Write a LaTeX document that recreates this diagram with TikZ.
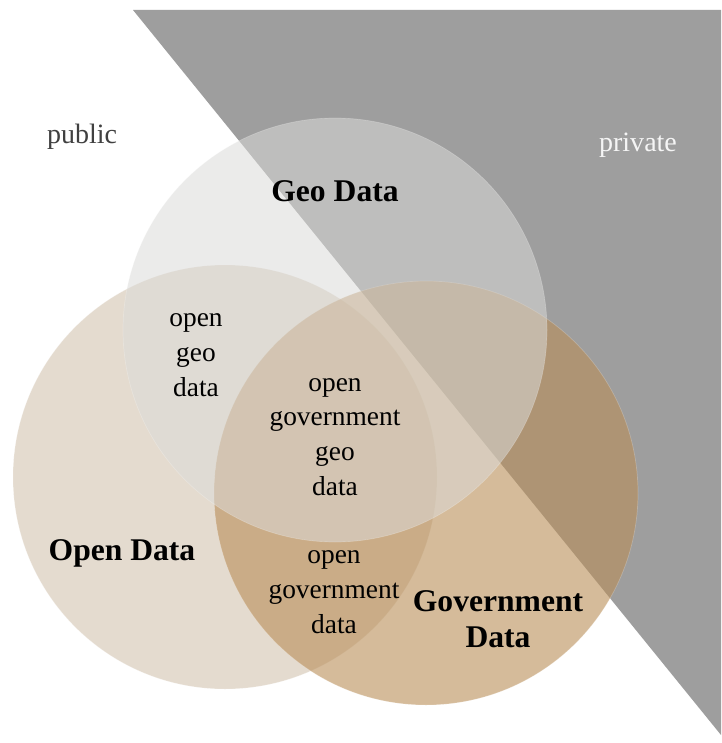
\documentclass[tikz,border=0pt]{standalone}
\usepackage{fontspec}
\setmainfont{Liberation Serif}
\definecolor{privgray}{RGB}{158,158,158}
\definecolor{geofill}{RGB}{219,219,217}
\definecolor{openfill}{RGB}{203,185,161}
\definecolor{govfill}{RGB}{185,142,88}
\definecolor{pubtext}{RGB}{64,64,64}
\definecolor{privtext}{RGB}{245,245,245}
\tikzset{
  venn/.style={circle, minimum size=424pt, inner sep=0pt, draw=white, draw opacity=0.22, line width=0.7pt},
  smalltxt/.style={align=center, font=\fontsize{27.4}{34.7}\selectfont, text=black, inner sep=0pt},
  bigtxt/.style={align=center, font=\fontsize{31.6}{36}\selectfont\bfseries, text=black, inner sep=0pt},
  sidetxt/.style={font=\fontsize{28}{32}\selectfont, inner sep=0pt, anchor=base}
}
\begin{document}
\begin{tikzpicture}[x=1pt,y=-1pt]
\useasboundingbox (0,0) rectangle (721,743);
\fill[white] (0,0) rectangle (721,743);
% private triangle
\coordinate (tl) at (133,10);
\coordinate (tr) at (721,10);
\coordinate (br) at (721,735);
\fill[privgray] (tl) -- (tr) -- (br) -- cycle;
% circles
\node[venn, fill=openfill, fill opacity=0.5] (open) at (225,477) {};
\node[venn, fill=govfill, fill opacity=0.6] (gov) at (426,493) {};
\node[venn, fill=geofill, fill opacity=0.53] (geo) at (335,330) {};
% side labels
\node[sidetxt, text=pubtext] (public) at (82,144) {public};
\node[sidetxt, text=privtext] (private) at (638,152) {private};
% big labels
\node[bigtxt, anchor=base] (geolab) at (335,202) {Geo Data};
\node[bigtxt, anchor=base] (openlab) at (122,560) {Open Data};
\node[bigtxt] (govlab) at (498,619) {Government\\Data};
% intersections
\node[smalltxt] (ogd) at (196,355) {open\\geo\\data};
\node[smalltxt] (ogg) at (335,437) {open\\government\\geo\\data};
\node[smalltxt] (ogov) at (334,592) {open\\government\\data};
\end{tikzpicture}
\end{document}
